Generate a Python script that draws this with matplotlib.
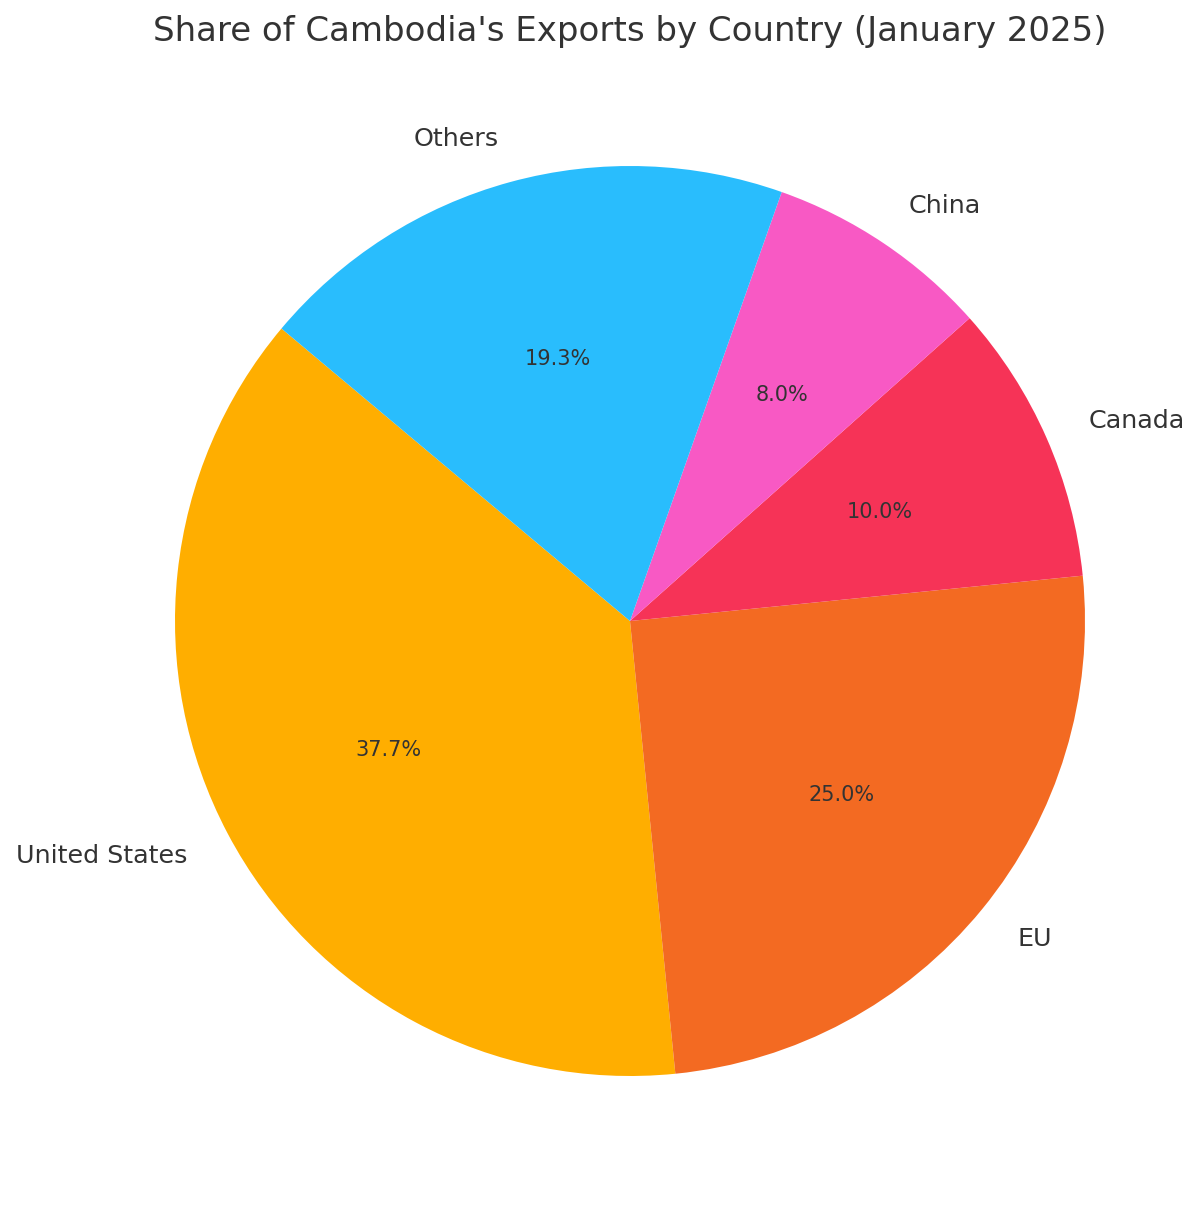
import matplotlib
matplotlib.use("Agg")
import matplotlib.pyplot as plt

countries = ["United States", "EU", "Canada", "China", "Others"]
shares = [37.7, 25.0, 10.0, 8.0, 19.3]
colors = ["#FFAE00", "#F36A22", "#F63357", "#F859C4", "#29BDFD"]

fig = plt.figure(figsize=(8, 8.04), dpi=150)
ax = fig.add_axes([0, 0, 1, 1])

wedges, texts, autotexts = ax.pie(
    shares, labels=countries, colors=colors, autopct="%1.1f%%",
    startangle=140, textprops={"color": "#333333", "fontsize": 12.2})
for t in autotexts:
    t.set_fontsize(10)

# place pie: center at (630, 622) px, radius 455 px
r = 455.0
ax.set_xlim(-630 / r, (1200 - 630) / r)
ax.set_ylim(-(1206 - 622) / r, 622 / r)
ax.set_aspect("equal")

fig.text(630 / 1200, 1 - 31 / 1206, "Share of Cambodia's Exports by Country (January 2025)",
         ha="center", va="center", fontsize=16.3, color="#333333")

fig.savefig("out.png")
